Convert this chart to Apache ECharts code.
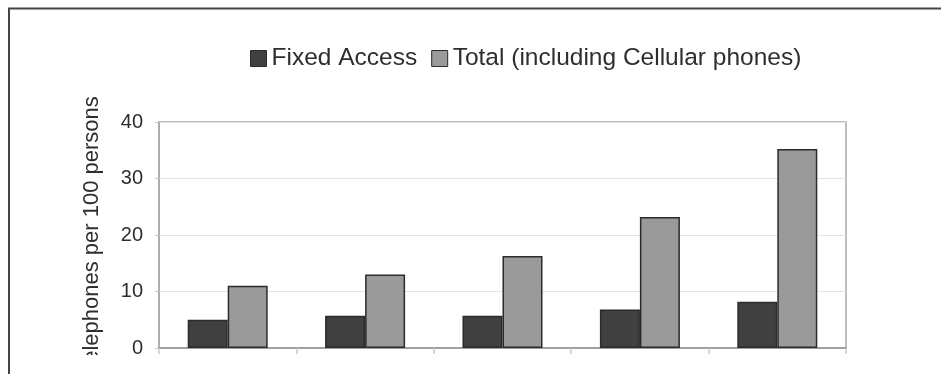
<!DOCTYPE html>
<html>
<head>
<meta charset="utf-8">
<script src="https://cdn.jsdelivr.net/npm/echarts@6/dist/echarts.min.js"></script>
<style>
  html, body { margin: 0; padding: 0; background: #ffffff; }
  #chart { width: 941px; height: 374px; }
</style>
</head>
<body>
<div id="chart"></div>
<script>
// Telephone density groups (axis labels sit below the visible frame)
const categories = ['1', '2', '3', '4', '5'];
const fixedAccess = [5.0, 5.7, 5.7, 6.8, 8.2];
const totalInclCellular = [11.0, 13.0, 16.3, 23.2, 35.2];
const yTicks = [0, 10, 20, 30, 40];

const FONT = '"Liberation Sans", Arial, Helvetica, sans-serif';
const chart = echarts.init(document.getElementById('chart'), null, { renderer: 'canvas' });

chart.setOption({
  animation: false,
  backgroundColor: '#ffffff',
  textStyle: { fontFamily: FONT, color: '#333333' },
  legend: {
    top: 41,
    left: 245,
    itemWidth: 16,
    itemHeight: 16,
    itemGap: 14,
    icon: 'rect',
    textStyle: { fontFamily: FONT, fontSize: 24.5, color: '#2e2e2e', padding: [0, 0, 0, 0] },
    data: [
      { name: 'Fixed Access', itemStyle: { borderColor: '#2b2b2b', borderWidth: 1 } },
      { name: 'Total (including Cellular phones)', itemStyle: { borderColor: '#2b2b2b', borderWidth: 1 } }
    ]
  },
  grid: {
    left: 159,
    top: 122,
    right: 95,
    bottom: 26,
    show: true,
    borderColor: '#a8a8a8',
    borderWidth: 1.5,
    containLabel: false,
    outerBoundsMode: 'none'
  },
  xAxis: {
    type: 'category',
    data: categories,
    axisLine: { show: true, lineStyle: { color: '#a0a0a0', width: 2 } },
    axisTick: { show: true, length: 6, alignWithLabel: false, lineStyle: { color: '#c8c8c8', width: 1.5 } },
    axisLabel: { show: false },
    splitLine: { show: false }
  },
  yAxis: {
    type: 'value',
    min: yTicks[0],
    max: yTicks[yTicks.length - 1],
    interval: yTicks[1] - yTicks[0],
    name: 'Telephones per 100 persons',
    nameLocation: 'middle',
    nameRotate: 90,
    nameGap: 56,
    nameTextStyle: { fontFamily: FONT, fontSize: 22, color: '#2e2e2e' },
    axisLine: { show: true, lineStyle: { color: '#a8a8a8', width: 1.5 } },
    axisTick: { show: true, length: 4, lineStyle: { color: '#c8c8c8' } },
    axisLabel: { margin: 16, fontFamily: FONT, fontSize: 20, color: '#2e2e2e' },
    splitLine: { show: true, lineStyle: { color: '#e2e2e2', width: 1.2 } }
  },
  series: [
    {
      name: 'Fixed Access',
      type: 'bar',
      data: fixedAccess,
      barWidth: 40,
      barGap: '0%',
      itemStyle: { color: '#404040', borderColor: '#2b2b2b', borderWidth: 1.5 }
    },
    {
      name: 'Total (including Cellular phones)',
      type: 'bar',
      data: totalInclCellular,
      barWidth: 40,
      barGap: '0%',
      itemStyle: { color: '#9a9a9a', borderColor: '#2b2b2b', borderWidth: 1.5 }
    }
  ],
  graphic: [
    // lower edge of the axis-name area, which clips the first letters
    {
      type: 'rect',
      z: 100,
      shape: { x: 70, y: 355, width: 70, height: 30 },
      style: { fill: '#ffffff' }
    },
    // outer frame: left and top edges
    {
      type: 'polyline',
      z: 101,
      shape: { points: [[9, 380], [9, 8.5], [945, 8.5]] },
      style: { stroke: '#444444', lineWidth: 2, fill: null }
    }
  ]
});
</script>
</body>
</html>
